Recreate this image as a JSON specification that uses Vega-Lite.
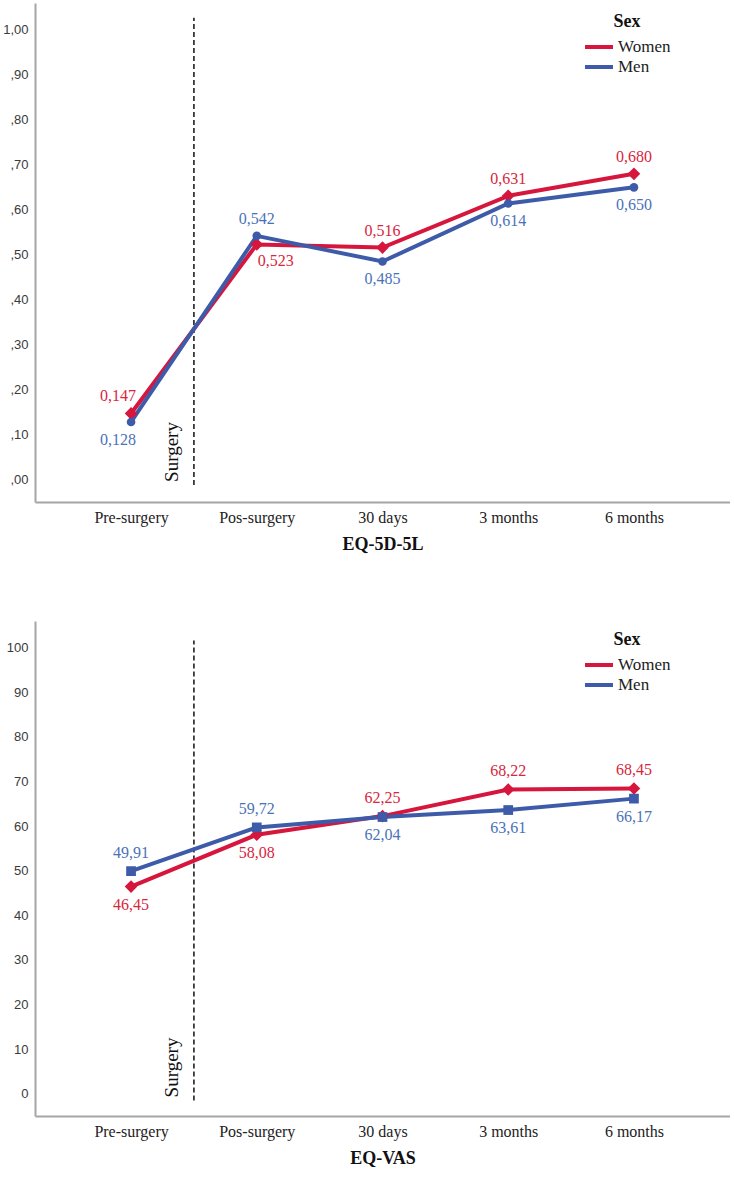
{
  "$schema": "https://vega.github.io/schema/vega-lite/v6.json",
  "padding": {"left": 2, "top": 3, "right": 0, "bottom": 0},
  "spacing": 68,
  "config": {
    "locale": {"number": {"decimal": ",", "thousands": ".", "grouping": [3], "currency": ["", " €"]}},
    "view": {"stroke": null},
    "axis": {"grid": false, "ticks": false, "tickSize": 0, "domainColor": "#a6a6a6", "domainWidth": 2, "labelFont": "Liberation Sans", "labelFontSize": 13, "labelColor": "#3a3a3a", "labelFlush": false},
    "axisX": {"labelFont": "Liberation Serif", "labelFontSize": 16, "labelColor": "#222222", "labelPadding": 7, "titleFont": "Liberation Serif", "titleFontSize": 18, "titleFontWeight": "bold", "titleColor": "#111111", "titlePadding": 10},
    "axisY": {"labelPadding": 7},
    "legend": {"titleFont": "Liberation Serif", "titleFontSize": 18, "titleFontWeight": "bold", "titleColor": "#111111", "titleAnchor": "middle", "titlePadding": 7, "labelFont": "Liberation Serif", "labelFontSize": 17, "labelColor": "#222222", "symbolType": "stroke", "symbolSize": 784, "symbolStrokeWidth": 4, "clipHeight": 18, "rowPadding": 2, "labelOffset": 3, "padding": 0}
  },
  "datasets": {
    "eq5d": [
      {"t": 1, "time": "Pre-surgery", "sex": "Women", "v": 0.147},
      {"t": 2, "time": "Pos-surgery", "sex": "Women", "v": 0.523},
      {"t": 3, "time": "30 days", "sex": "Women", "v": 0.516},
      {"t": 4, "time": "3 months", "sex": "Women", "v": 0.631},
      {"t": 5, "time": "6 months", "sex": "Women", "v": 0.680},
      {"t": 1, "time": "Pre-surgery", "sex": "Men", "v": 0.128},
      {"t": 2, "time": "Pos-surgery", "sex": "Men", "v": 0.542},
      {"t": 3, "time": "30 days", "sex": "Men", "v": 0.485},
      {"t": 4, "time": "3 months", "sex": "Men", "v": 0.614},
      {"t": 5, "time": "6 months", "sex": "Men", "v": 0.650}
    ],
    "vas": [
      {"t": 1, "time": "Pre-surgery", "sex": "Women", "v": 46.45},
      {"t": 2, "time": "Pos-surgery", "sex": "Women", "v": 58.08},
      {"t": 3, "time": "30 days", "sex": "Women", "v": 62.25},
      {"t": 4, "time": "3 months", "sex": "Women", "v": 68.22},
      {"t": 5, "time": "6 months", "sex": "Women", "v": 68.45},
      {"t": 1, "time": "Pre-surgery", "sex": "Men", "v": 49.91},
      {"t": 2, "time": "Pos-surgery", "sex": "Men", "v": 59.72},
      {"t": 3, "time": "30 days", "sex": "Men", "v": 62.04},
      {"t": 4, "time": "3 months", "sex": "Men", "v": 63.61},
      {"t": 5, "time": "6 months", "sex": "Men", "v": 66.17}
    ],
    "surgA": [{"t": 1.5, "v": -0.012, "v2": 1.027, "label": "Surgery"}],
    "surgB": [{"t": 1.5, "v": -1.5, "v2": 101.6, "label": "Surgery"}]
  },
  "resolve": {"scale": {"x": "independent", "y": "independent", "color": "independent"}, "legend": {"color": "independent"}},
  "vconcat": [
    {
      "width": 695,
      "height": 499,
      "data": {"name": "eq5d"},
      "encoding": {
        "x": {"field": "t", "type": "quantitative", "scale": {"domain": [0.236, 5.764], "nice": false, "zero": false}, "axis": {"values": [1, 2, 3, 4, 5], "labelExpr": "['Pre-surgery','Pos-surgery','30 days','3 months','6 months'][datum.value-1]", "title": "EQ-5D-5L"}},
        "y": {"field": "v", "type": "quantitative", "scale": {"domain": [-0.05, 1.06], "nice": false, "zero": false}, "axis": {"values": [0, 0.1, 0.2, 0.3, 0.4, 0.5, 0.6, 0.7, 0.8, 0.9, 1.0], "labelExpr": "datum.value < 1 ? substring(replace(format(datum.value, '.2f'), '.', ','), 1) : replace(format(datum.value, '.2f'), '.', ',')", "title": null}}
      },
      "layer": [
        {"data": {"name": "surgA"}, "mark": {"type": "rule", "strokeDash": [5, 3], "strokeWidth": 1.5, "color": "#111111"}, "encoding": {"y2": {"field": "v2"}}},
        {"data": {"name": "surgA"}, "mark": {"type": "text", "angle": 270, "align": "left", "baseline": "alphabetic", "dy": -16, "dx": 3, "font": "Liberation Serif", "fontSize": 19, "color": "#111111"}, "encoding": {"text": {"field": "label"}}},
        {"mark": {"type": "line", "strokeWidth": 4}, "encoding": {"color": {"field": "sex", "type": "nominal", "title": "Sex", "scale": {"domain": ["Women", "Men"], "range": ["#d6163c", "#3e5ba9"]}, "legend": {"orient": "none", "legendX": 548, "legendY": 10}}}},
        {"mark": {"type": "point", "filled": true, "opacity": 1}, "encoding": {"color": {"condition": {"test": "datum.sex == 'Women'", "value": "#d6163c"}, "value": "#3e5ba9"}, "shape": {"condition": {"test": "datum.sex == 'Women'", "value": "diamond"}, "value": "circle"}, "size": {"condition": {"test": "datum.sex == 'Women'", "value": 160}, "value": 75}}},
        {"transform": [{"joinaggregate": [{"op": "max", "field": "v", "as": "mx"}], "groupby": ["t"]}, {"filter": "datum.v == datum.mx && datum.t != 1"}], "mark": {"type": "text", "baseline": "middle", "dy": -17, "font": "Liberation Serif", "fontSize": 16}, "encoding": {"text": {"field": "v", "type": "quantitative", "format": ".3f"}, "color": {"condition": {"test": "datum.sex == 'Women'", "value": "#d7263d"}, "value": "#4a72b8"}}},
        {"transform": [{"joinaggregate": [{"op": "max", "field": "v", "as": "mx"}], "groupby": ["t"]}, {"filter": "datum.v == datum.mx && datum.t == 1"}], "mark": {"type": "text", "baseline": "middle", "dy": -17, "dx": -13, "font": "Liberation Serif", "fontSize": 16}, "encoding": {"text": {"field": "v", "type": "quantitative", "format": ".3f"}, "color": {"condition": {"test": "datum.sex == 'Women'", "value": "#d7263d"}, "value": "#4a72b8"}}},
        {"transform": [{"joinaggregate": [{"op": "max", "field": "v", "as": "mx"}], "groupby": ["t"]}, {"filter": "datum.v < datum.mx && datum.t > 2"}], "mark": {"type": "text", "baseline": "middle", "dy": 18, "font": "Liberation Serif", "fontSize": 16}, "encoding": {"text": {"field": "v", "type": "quantitative", "format": ".3f"}, "color": {"condition": {"test": "datum.sex == 'Women'", "value": "#d7263d"}, "value": "#4a72b8"}}},
        {"transform": [{"joinaggregate": [{"op": "max", "field": "v", "as": "mx"}], "groupby": ["t"]}, {"filter": "datum.v < datum.mx && datum.t == 1"}], "mark": {"type": "text", "baseline": "middle", "dy": 18, "dx": -13, "font": "Liberation Serif", "fontSize": 16}, "encoding": {"text": {"field": "v", "type": "quantitative", "format": ".3f"}, "color": {"condition": {"test": "datum.sex == 'Women'", "value": "#d7263d"}, "value": "#4a72b8"}}},
        {"transform": [{"joinaggregate": [{"op": "max", "field": "v", "as": "mx"}], "groupby": ["t"]}, {"filter": "datum.v < datum.mx && datum.t == 2"}], "mark": {"type": "text", "baseline": "middle", "dy": 17, "dx": 19, "font": "Liberation Serif", "fontSize": 16}, "encoding": {"text": {"field": "v", "type": "quantitative", "format": ".3f"}, "color": {"condition": {"test": "datum.sex == 'Women'", "value": "#d7263d"}, "value": "#4a72b8"}}}
      ]
    },
    {
      "width": 695,
      "height": 495,
      "data": {"name": "vas"},
      "encoding": {
        "x": {"field": "t", "type": "quantitative", "scale": {"domain": [0.236, 5.764], "nice": false, "zero": false}, "axis": {"values": [1, 2, 3, 4, 5], "labelExpr": "['Pre-surgery','Pos-surgery','30 days','3 months','6 months'][datum.value-1]", "title": "EQ-VAS"}},
        "y": {"field": "v", "type": "quantitative", "scale": {"domain": [-5, 106], "nice": false, "zero": false}, "axis": {"values": [0, 10, 20, 30, 40, 50, 60, 70, 80, 90, 100], "title": null}}
      },
      "layer": [
        {"data": {"name": "surgB"}, "mark": {"type": "rule", "strokeDash": [5, 3], "strokeWidth": 1.5, "color": "#111111"}, "encoding": {"y2": {"field": "v2"}}},
        {"data": {"name": "surgB"}, "mark": {"type": "text", "angle": 270, "align": "left", "baseline": "alphabetic", "dy": -16, "dx": 3, "font": "Liberation Serif", "fontSize": 19, "color": "#111111"}, "encoding": {"text": {"field": "label"}}},
        {"mark": {"type": "line", "strokeWidth": 4}, "encoding": {"color": {"field": "sex", "type": "nominal", "title": "Sex", "scale": {"domain": ["Women", "Men"], "range": ["#d6163c", "#3e5ba9"]}, "legend": {"orient": "none", "legendX": 548, "legendY": 10}}}},
        {"mark": {"type": "point", "filled": true, "opacity": 1}, "encoding": {"color": {"condition": {"test": "datum.sex == 'Women'", "value": "#d6163c"}, "value": "#3e5ba9"}, "shape": {"condition": {"test": "datum.sex == 'Women'", "value": "diamond"}, "value": "square"}, "size": {"condition": {"test": "datum.sex == 'Women'", "value": 160}, "value": 95}}},
        {"transform": [{"joinaggregate": [{"op": "max", "field": "v", "as": "mx"}], "groupby": ["t"]}, {"filter": "datum.v == datum.mx"}], "mark": {"type": "text", "baseline": "middle", "dy": -18, "font": "Liberation Serif", "fontSize": 16}, "encoding": {"text": {"field": "v", "type": "quantitative", "format": ".2f"}, "color": {"condition": {"test": "datum.sex == 'Women'", "value": "#d7263d"}, "value": "#4a72b8"}}},
        {"transform": [{"joinaggregate": [{"op": "max", "field": "v", "as": "mx"}], "groupby": ["t"]}, {"filter": "datum.v < datum.mx"}], "mark": {"type": "text", "baseline": "middle", "dy": 18, "font": "Liberation Serif", "fontSize": 16}, "encoding": {"text": {"field": "v", "type": "quantitative", "format": ".2f"}, "color": {"condition": {"test": "datum.sex == 'Women'", "value": "#d7263d"}, "value": "#4a72b8"}}}
      ]
    }
  ]
}
